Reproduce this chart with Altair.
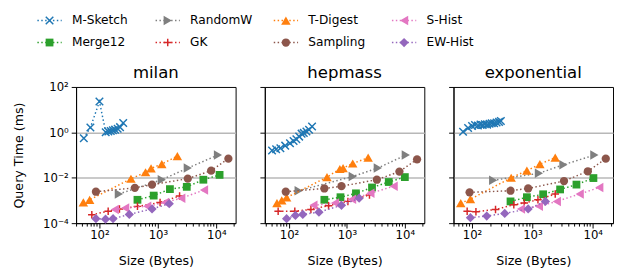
import math
import altair as alt
import pandas as pd

FONT = "DejaVu Sans"

SERIES = ["M-Sketch", "Merge12", "RandomW", "GK", "T-Digest", "Sampling", "S-Hist", "EW-Hist"]
COLORS = ["#1f77b4", "#2ca02c", "#7f7f7f", "#d62728", "#ff7f0e", "#8c564b", "#e377c2", "#9467bd"]
X_PATH = "M-1,-1L1,1M-1,1L1,-1"
PLUS_PATH = "M-1,0L1,0M0,-1L0,1"
SHAPES = [X_PATH, "square", "triangle-right", PLUS_PATH, "triangle-up", "circle", "triangle-left", "diamond"]
FILLED = [False, True, True, False, True, True, True, True]
MSIZE = [60, 64, 95, 60, 95, 72, 95, 90]

DATASETS = ["milan", "hepmass", "exponential"]

# ---- milan ----
milan_size = {
    "M-Sketch": [54, 70, 100, 128, 142, 156, 170, 185, 205, 225, 255],
    "Merge12": [447, 847, 1606, 3120, 5995, 11370],
    "RandomW": [215, 1166, 3245, 10660],
    "GK": [74, 141, 220, 447, 1090, 2350],
    "T-Digest": [53, 68, 346, 615, 764, 1166, 2154],
    "Sampling": [87, 403, 794, 3245, 8150, 16060],
    "S-Hist": [183, 275, 656, 1325, 2512, 6150],
    "EW-Hist": [87, 127, 171, 324, 794, 1564],
}
milan_time = {
    "M-Sketch": [0.55, 1.64, 22.8, 1.02, 1.1, 1.15, 1.25, 1.32, 1.45, 1.7, 2.6],
    "Merge12": [1.07e-3, 1.64e-3, 3.16e-3, 3.98e-3, 8.2e-3, 0.0134],
    "RandomW": [1.93e-3, 8.2e-3, 0.0268, 0.1],
    "GK": [2.35e-4, 3.38e-4, 4.25e-4, 5.5e-4, 8.2e-4, 1.58e-3],
    "T-Digest": [8.2e-4, 1.07e-3, 9.06e-3, 0.0175, 0.026, 0.04, 0.0906],
    "Sampling": [2.43e-3, 3.6e-3, 5.0e-3, 9.1e-3, 0.0206, 0.0697],
    "S-Hist": [3.98e-4, 4.7e-4, 5.5e-4, 8.2e-4, 1.26e-3, 2.86e-3],
    "EW-Hist": [1.58e-4, 1.5e-4, 1.58e-4, 2.43e-4, 4.25e-4, 7.2e-4],
}

# ---- hepmass ----
hepmass_size = {
    "M-Sketch": [51, 60, 71, 86, 104, 120, 134, 150, 165, 180, 200, 222, 250],
    "Merge12": [408, 774, 1431, 2712, 5275, 10000],
    "RandomW": [147, 1259, 3415, 10390],
    "GK": [65, 126, 239, 482, 1040, 2450],
    "T-Digest": [62, 75, 91, 453, 755, 858, 1259, 2326],
    "Sampling": [88, 408, 805, 3286, 8050, 16250],
    "S-Hist": [264, 623, 1227, 2545, 6400],
    "EW-Hist": [91, 129, 173, 329, 805, 1625],
}
hepmass_time = {
    "M-Sketch": [0.16, 0.18, 0.2, 0.26, 0.33, 0.42, 0.5, 0.65, 0.88, 0.95, 1.1, 1.3, 1.8],
    "Merge12": [1.07e-3, 1.39e-3, 2.06e-3, 3.73e-3, 6.5e-3, 0.0107],
    "RandomW": [2.68e-3, 0.0114, 0.0268, 0.1],
    "GK": [3.38e-4, 3.38e-4, 4.0e-4, 5.9e-4, 9.1e-4, 1.75e-3],
    "T-Digest": [7.7e-4, 1.0e-3, 1.35e-3, 0.0107, 0.0243, 0.0268, 0.0425, 0.0769],
    "Sampling": [2.43e-3, 3.38e-3, 4.25e-3, 8.2e-3, 0.0187, 0.065],
    "S-Hist": [6.1e-4, 7.7e-4, 1.14e-3, 2.06e-3, 4.25e-3],
    "EW-Hist": [1.58e-4, 2.2e-4, 2.43e-4, 3.06e-4, 6.1e-4, 1.26e-3],
}

# ---- exponential ----
exponential_size = {
    "M-Sketch": [71, 86, 100, 112, 125, 138, 150, 163, 178, 195, 212, 232, 255, 280, 300],
    "Merge12": [434, 810, 1507, 2880, 5370, 10260],
    "RandomW": [224, 1282, 3265, 10640],
    "GK": [83, 116, 245, 492, 733, 1236, 2390],
    "T-Digest": [65, 94, 445, 810, 1330, 2390],
    "Sampling": [91, 434, 851, 3340, 8300, 16440],
    "S-Hist": [647, 1282, 2540, 6080, 12830],
    "EW-Hist": [94, 175, 348, 851, 1645],
}
exponential_time = {
    "M-Sketch": [1.07, 1.55, 1.9, 2.1, 2.0, 2.2, 2.1, 2.3, 2.2, 2.4, 2.5, 2.5, 2.7, 2.9, 3.2],
    "Merge12": [9.1e-4, 1.39e-3, 1.87e-3, 3.06e-3, 5.0e-3, 9.7e-3],
    "RandomW": [7.7e-3, 0.0158, 0.0373, 0.1],
    "GK": [3.38e-4, 3.2e-4, 4.0e-4, 6.5e-4, 7.7e-4, 1.07e-3, 1.93e-3],
    "T-Digest": [7.7e-4, 1.14e-3, 0.01, 0.0206, 0.04, 0.077],
    "Sampling": [2.28e-3, 2.68e-3, 3.38e-3, 7.2e-3, 0.0193, 0.0697],
    "S-Hist": [4.25e-4, 5.5e-4, 9.1e-4, 1.93e-3, 3.73e-3],
    "EW-Hist": [1.75e-4, 2.06e-4, 2.68e-4, 4.25e-4, 9.1e-4],
}

ALL_SIZE = {"milan": milan_size, "hepmass": hepmass_size, "exponential": exponential_size}
ALL_TIME = {"milan": milan_time, "hepmass": hepmass_time, "exponential": exponential_time}

Y_TICKS = [1e-4, 1e-2, 1, 100]

EXP = "round(log(datum.value)/LN10)"
MAJ = f"abs(log(datum.value)/LN10 - {EXP}) < 0.001"
X_LABELS = (f"{MAJ} ? ({EXP} == 1 ? '10¹' : {EXP} == 2 ? '10²' : {EXP} == 3 ? '10³' : "
            f"{EXP} == 4 ? '10⁴' : '') : ''")
Y_LABELS = (f"{EXP} == 2 ? '10²' : {EXP} == 0 ? '10⁰' : {EXP} == -2 ? '10⁻²' : "
            f"{EXP} == -4 ? '10⁻⁴' : ''")

PW, PH = 164, 140

# legend layout (pixels relative to the first panel's plot origin)
LEG_X0, LEG_DX = -27.3, 121.5
LEG_Y0, LEG_DY = -68.3, 22.6


def point_mark(i):
    if FILLED[i]:
        return dict(filled=True, shape=SHAPES[i], size=MSIZE[i], color=COLORS[i], opacity=1)
    return dict(filled=False, shape=SHAPES[i], size=MSIZE[i], color=COLORS[i], opacity=1,
                strokeWidth=1.5)


def legend_layers():
    layers = []
    for i, s in enumerate(SERIES):
        col, row = i // 2, i % 2
        mx = LEG_X0 + LEG_DX * col
        my = LEG_Y0 + LEG_DY * row
        base = alt.Chart(pd.DataFrame({"series": [s]}))
        layers.append(base.mark_rule(color=COLORS[i], strokeDash=[1.5, 2.5], strokeWidth=1.5).encode(
            x=alt.value(mx - 12.5), x2=alt.value(mx + 12.5), y=alt.value(my)))
        layers.append(base.mark_point(**point_mark(i)).encode(x=alt.value(mx), y=alt.value(my)))
        layers.append(base.mark_text(align="left", baseline="middle", fontSize=12.5, font=FONT,
                                     color="black").encode(
            x=alt.value(mx + 23), y=alt.value(my), text="series:N"))
    return layers


def panel(name, first):
    sizes = ALL_SIZE[name]
    times = ALL_TIME[name]
    allx = [v for s in SERIES for v in sizes[s]]
    lo, hi = math.log10(min(allx)), math.log10(max(allx))
    m = 0.05 * (hi - lo)
    dom = [10 ** (lo - m), 10 ** (hi + m)]
    ticks = []
    for k in range(0, 6):
        for j in range(1, 10):
            v = j * 10 ** k
            if dom[0] <= v <= dom[1]:
                ticks.append(v)
    xs = alt.Scale(type="log", domain=dom, nice=False)
    ys = alt.Scale(type="log", domain=[1e-4, 1e2], nice=False)
    xax = alt.Axis(values=ticks, labelExpr=X_LABELS, labelOverlap=False, labelFlush=False,
                   tickSize={"condition": {"test": MAJ, "value": 5}, "value": 3},
                   tickColor="black", tickWidth=1, domainColor="black", grid=False,
                   labelFontSize=12, labelColor="black", labelPadding=2,
                   title="Size (Bytes)", titleFontSize=13, titleFontWeight="normal",
                   titleColor="black", titleX=PW / 2, titleY=38, titleBaseline="middle")
    yargs = dict(values=Y_TICKS, labelExpr=Y_LABELS, labels=first, tickSize=5,
                 tickColor="black", tickWidth=1, domainColor="black",
                 grid=True, gridColor="#b8b8b8", gridWidth=1.6,
                 gridOpacity={"condition": {"test": "datum.value > 0.0002 && datum.value < 50", "value": 1}, "value": 0},
                 labelFontSize=12, labelColor="black", labelPadding=3, labelOverlap=False)
    if first:
        yargs.update(title="Query Time (ms)", titleFontSize=13, titleFontWeight="normal",
                     titleColor="black", titleX=-59, titleY=PH / 2, titleAngle=270,
                     titleBaseline="middle", titleAlign="center")
    else:
        yargs.update(title=None)
    yax = alt.Axis(**yargs)

    layers = []
    for i, s in enumerate(SERIES):
        df = pd.DataFrame({"size": sizes[s], "time": times[s]})
        base = alt.Chart(df)
        enc = dict(x=alt.X("size:Q", scale=xs, axis=xax), y=alt.Y("time:Q", scale=ys, axis=yax))
        layers.append(base.mark_line(color=COLORS[i], strokeDash=[1.5, 2.5], strokeWidth=1.5).encode(**enc))
        layers.append(base.mark_point(**point_mark(i)).encode(**enc))
    title = alt.Chart(pd.DataFrame({"t": [name]})).mark_text(
        fontSize=17, font=FONT, baseline="alphabetic", align="center", color="black"
    ).encode(x=alt.value(PW / 2), y=alt.value(-9), text="t:N")
    layers.append(title)
    if first:
        layers += legend_layers()
    return alt.layer(*layers).properties(width=PW, height=PH)


chart = alt.hconcat(*[panel(n, i == 0) for i, n in enumerate(DATASETS)], spacing=30, bounds="flush").properties(
    padding={"left": 4, "top": 1.5, "right": 0, "bottom": 0}
).configure(font=FONT).configure_view(stroke="black", strokeWidth=1)

chart.save("out.html", embed_options={"renderer": "svg", "actions": False})
